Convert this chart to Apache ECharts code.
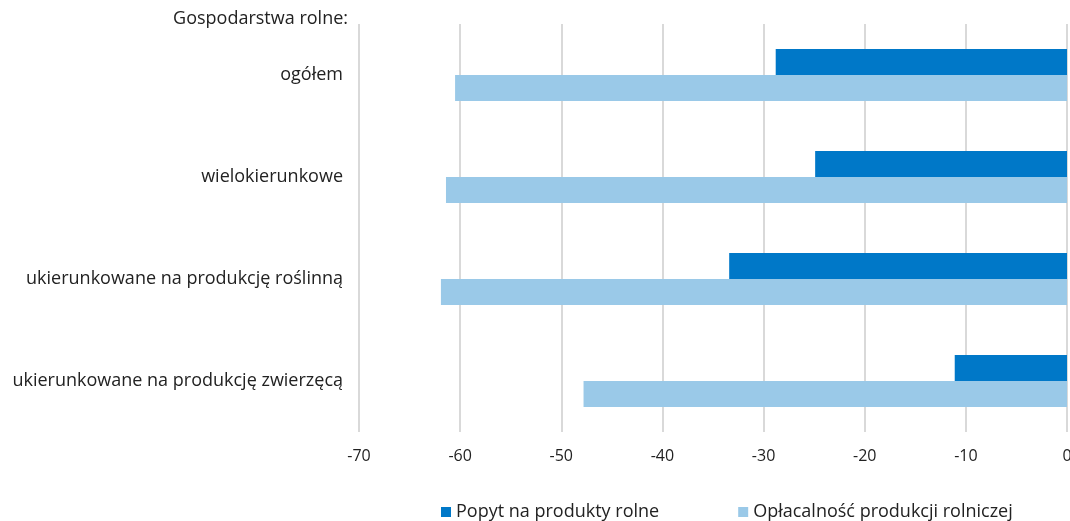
<!DOCTYPE html>
<html>
<head>
<meta charset="utf-8">
<script src="https://cdn.jsdelivr.net/npm/echarts@6/dist/echarts.min.js"></script>
<style>html,body{margin:0;padding:0;background:#fff;overflow:hidden}#c{width:1070px;height:521px}</style>
</head>
<body>
<div id="c"></div>
<script>
const categories = ['ogółem', 'wielokierunkowe', 'ukierunkowane na produkcję roślinną', 'ukierunkowane na produkcję zwierzęcą'];
const popyt = [-28.8, -24.9, -33.4, -11.1];
const oplacalnosc = [-60.5, -61.4, -61.9, -47.8];
const seriesNames = ['Popyt na produkty rolne', 'Opłacalność produkcji rolniczej'];
const groupTitle = 'Gospodarstwa rolne:';

const FONT = 'Open Sans';
const chart = echarts.init(document.getElementById('c'));
chart.setOption({
  animation: false,
  textStyle: { fontFamily: FONT },
  grid: { left: 359, right: 3, top: 24, bottom: 89, containLabel: false, outerBoundsMode: 'none' },
  graphic: [{
    type: 'text', right: 1070 - 348, top: 10,
    style: { text: groupTitle, fontFamily: FONT, fontSize: 18, fill: '#222', textAlign: 'right' }
  }],
  xAxis: {
    type: 'value', min: -70, max: 0, interval: 10,
    axisLine: { show: false }, axisTick: { show: false },
    axisLabel: { color: '#222', fontSize: 16, margin: 16, fontFamily: FONT },
    splitLine: { lineStyle: { color: '#d9d9d9', width: 2 } }
  },
  yAxis: {
    type: 'category', data: categories, inverse: true,
    axisLine: { show: false }, axisTick: { show: false },
    axisLabel: { color: '#222', fontSize: 18, margin: 16, fontFamily: FONT }
  },
  legend: {
    bottom: -5, left: 436, itemGap: 79, itemWidth: 10, itemHeight: 10,
    icon: 'rect',
    textStyle: { color: '#222', fontSize: 18, fontFamily: FONT },
    data: seriesNames
  },
  series: [
    { name: seriesNames[0], type: 'bar', data: popyt, barGap: '0%', barCategoryGap: '49%',
      itemStyle: { color: '#0078C8' } },
    { name: seriesNames[1], type: 'bar', data: oplacalnosc, barGap: '0%', barCategoryGap: '49%',
      itemStyle: { color: '#9AC9E8' } }
  ]
});
</script>
</body>
</html>
